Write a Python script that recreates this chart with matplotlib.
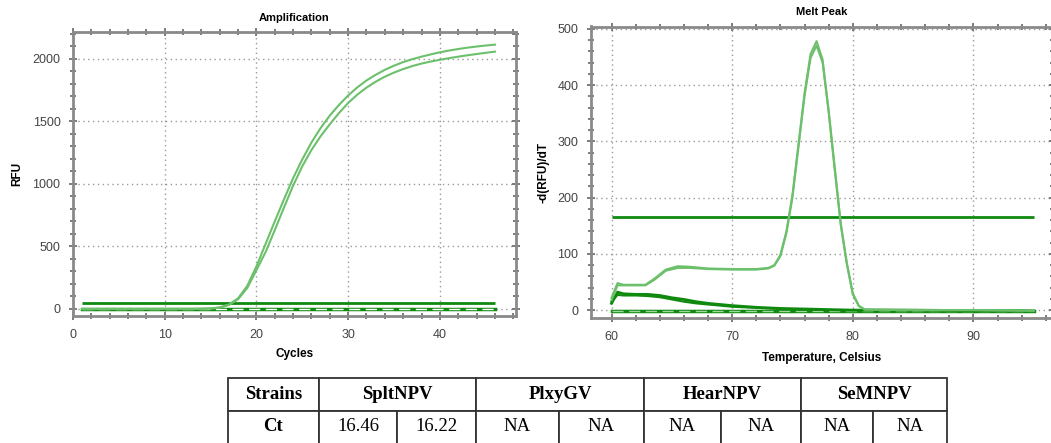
import numpy as np
import matplotlib.pyplot as plt
from matplotlib.ticker import MultipleLocator

# ---- amplification data ----
cycles = list(range(1, 47))
rfu_a = [0] * 13 + [1, 4, 13, 36, 85, 185, 340, 520, 700, 875,
                    1045, 1195, 1330, 1445, 1545, 1630, 1705, 1770, 1825, 1870,
                    1910, 1943, 1972, 1995, 2015, 2033, 2050, 2064, 2076, 2087,
                    2096, 2104, 2111]
rfu_b = [0] * 13 + [1, 3, 11, 32, 78, 168, 310, 455, 630, 810,
                    985, 1140, 1270, 1380, 1475, 1565, 1645, 1712, 1768, 1815,
                    1855, 1888, 1916, 1940, 1960, 1976, 1990, 2003, 2015, 2026,
                    2036, 2046, 2055]
neg_cycles = [1, 10, 20, 30, 40, 46]
neg_rfu = [0, 0, 0, 0, 0, 0]
amp_threshold = 50

# ---- melt peak data ----
temps = [60, 60.5, 61, 62, 62.8, 63.5, 64.5, 65.5, 66.5, 68, 70, 72, 73, 73.5, 74,
         74.5, 75, 75.5, 76, 76.5, 77, 77.5, 78, 78.5, 79, 79.5, 80, 80.5, 81,
         85, 90, 95]
melt_a = [22, 48, 45, 45, 45, 55, 72, 78, 77, 74, 73, 73, 75, 80, 98,
          140, 205, 295, 385, 455, 478, 445, 355, 255, 155, 85, 30, 8, 1,
          0, 0, -1]
melt_b = [18, 44, 44, 44, 44, 53, 70, 75, 75, 73, 72, 72, 74, 79, 96,
          137, 200, 290, 380, 448, 470, 440, 352, 250, 152, 83, 28, 7, 1,
          0, 0, -1]
low_temps = [60, 60.5, 61, 62, 63, 64, 65, 66, 67, 68, 69, 70, 72, 74, 76, 78, 80, 85, 90, 94, 95]
low_a = [12, 32, 29, 28, 28, 26, 22, 19, 15, 12, 10, 8, 5, 3, 2, 1, 0, 0, -1, -1, -2]
low_b = [15, 27, 26, 26, 25, 23, 19, 15, 12, 10, 8, 6, 4, 2, 1, 0, 0, 0, -1, -1, -1]
flat_temps = [60, 70, 80, 90, 95]
flat_vals = [-1, -1, -1, -1, -1]
melt_threshold = 165

# ---- table ----
strains = ['Strains', 'SpltNPV', 'PlxyGV', 'HearNPV', 'SeMNPV']
ct_values = ['Ct', '16.46', '16.22', 'NA', 'NA', 'NA', 'NA', 'NA', 'NA']

light = '#6cc06c'
dark = '#0f8a0f'
spine_c = '#8a8a8a'

fig = plt.figure(figsize=(10.51, 4.43), dpi=100)
plt.rcParams['font.family'] = ['Liberation Sans', 'DejaVu Sans']

ax1 = fig.add_axes([73 / 1051, 1 - 316 / 443, 443 / 1051, 284 / 443])
ax2 = fig.add_axes([591 / 1051, 1 - 318 / 443, 462 / 1051, 291.5 / 443])


def style(ax):
    for s in ax.spines.values():
        s.set_color(spine_c)
        s.set_linewidth(2)
    ax.tick_params(which='both', direction='inout', colors='#666', top=True, right=True,
                   labelcolor='#444', labelsize=9, width=1.2)
    ax.tick_params(which='major', length=6, pad=6)
    ax.tick_params(which='minor', length=4)
    ax.grid(True, which='major', linestyle=(0, (1, 2.5)), color='#999', lw=1)
    ax.set_axisbelow(True)


# amplification
ax1.plot(neg_cycles, neg_rfu, color=dark, lw=2.5)
ax1.plot(neg_cycles, neg_rfu, color='white', lw=1, ls=(0, (8, 4)))
ax1.hlines(amp_threshold, cycles[0], cycles[-1], color=dark, lw=2)
ax1.plot(cycles, rfu_a, color=light, lw=1.5)
ax1.plot(cycles, rfu_b, color=light, lw=1.5)
ax1.set_xlim(0, 48.3)
ax1.set_ylim(-56, 2212)
ax1.xaxis.set_major_locator(MultipleLocator(10))
ax1.xaxis.set_minor_locator(MultipleLocator(2))
ax1.yaxis.set_major_locator(MultipleLocator(500))
ax1.yaxis.set_minor_locator(MultipleLocator(100))
style(ax1)
ax1.set_title('Amplification', fontsize=8, fontweight='bold', pad=8)
ax1.set_xlabel('Cycles', fontsize=8.5, fontweight='bold')
ax1.set_ylabel('RFU', fontsize=8.5, fontweight='bold')
ax1.xaxis.set_label_coords(0.5, -0.113)
ax1.yaxis.set_label_coords(-0.113, 0.5)

# melt peak
ax2.plot(flat_temps, flat_vals, color=dark, lw=2.5)
ax2.plot(flat_temps, flat_vals, color='#9fd89f', lw=1, ls=(0, (8, 4)))
ax2.plot(low_temps, low_a, color=dark, lw=2)
ax2.plot(low_temps, low_b, color=dark, lw=1.5)
ax2.hlines(melt_threshold, flat_temps[0], flat_temps[-1], color=dark, lw=2)
ax2.plot(temps, melt_a, color=light, lw=1.5)
ax2.plot(temps, melt_b, color=light, lw=1.5)
ax2.set_xlim(58.3, 96.6)
ax2.set_ylim(-14, 504)
ax2.xaxis.set_major_locator(MultipleLocator(10))
ax2.xaxis.set_minor_locator(MultipleLocator(2))
ax2.yaxis.set_major_locator(MultipleLocator(100))
ax2.yaxis.set_minor_locator(MultipleLocator(20))
style(ax2)
ax2.set_title('Melt Peak', fontsize=8, fontweight='bold', pad=8)
ax2.set_xlabel('Temperature, Celsius', fontsize=8.5, fontweight='bold')
ax2.set_ylabel('-d(RFU)/dT', fontsize=8.5, fontweight='bold')
ax2.xaxis.set_label_coords(0.5, -0.117)
ax2.yaxis.set_label_coords(-0.09, 0.5)

# table
axt = fig.add_axes([228 / 1051, 0, 719 / 1051, 65 / 443])
axt.axis('off')
head_w = [91, 157, 168, 157, 146]
row_w = [91, 78, 79, 83, 85, 77, 80, 72, 74]
t1 = axt.table(cellText=[strains], colWidths=[w / 719 for w in head_w],
               cellLoc='center', bbox=[0, 0.5, 1, 0.5])
t2 = axt.table(cellText=[ct_values], colWidths=[w / 719 for w in row_w],
               cellLoc='center', bbox=[0, 0, 1, 0.5])
for t in (t1, t2):
    t.auto_set_font_size(False)
    for (r, c), cell in t.get_celld().items():
        cell.set_edgecolor('#333')
        cell.set_linewidth(1.3)
        if t is t2:
            cell.visible_edges = 'LTR'
        bold = (t is t1) or c == 0
        cell.get_text().set_fontfamily('Liberation Serif')
        cell.get_text().set_fontsize(13.5)
        cell.get_text().set_fontweight('bold' if bold else 'normal')

fig.savefig('out.png', dpi=100)
